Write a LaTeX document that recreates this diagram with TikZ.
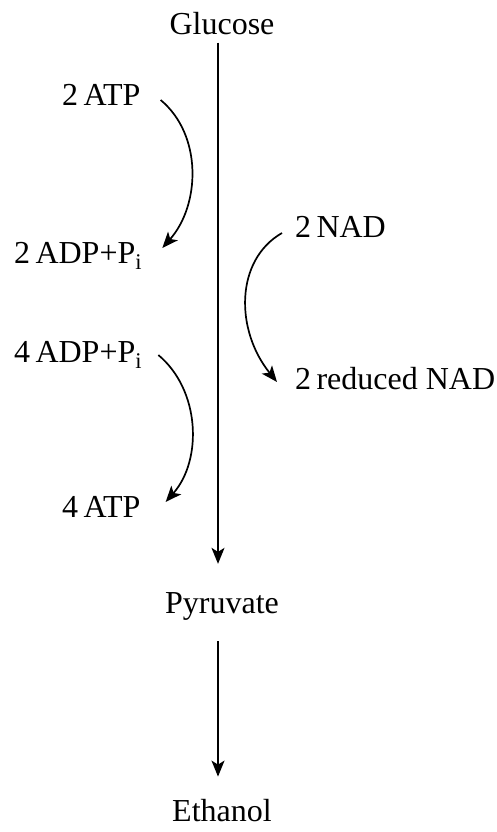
\documentclass[tikz,border=0pt]{standalone}
\usepackage{fontspec}
\setmainfont{Liberation Serif}
\usetikzlibrary{arrows.meta}
\begin{document}
\begin{tikzpicture}[x=1pt,y=-1pt,
  lbl/.style={inner sep=0pt,font=\fontsize{32}{38}\selectfont},
  flow/.style={line width=1.7pt,-{Stealth[length=16pt,width=13pt,inset=4pt]}},
  curvearrow/.style={line width=1.7pt,-{Stealth[length=16pt,width=13pt,inset=4pt]}}]
\useasboundingbox (0,0) rectangle (497,832);
\node[lbl,anchor=base] (glu) at (222,35) {Glucose};
\node[lbl,anchor=base west] (atp2) at (62,106) {2\,ATP};
\node[lbl,anchor=base west] (adp2) at (14,263) {2\,ADP+P\textsubscript{i}};
\node[lbl,anchor=base west] (nad2) at (295,237) {2\,NAD};
\node[lbl,anchor=base west] (adp4) at (14,362) {4\,ADP+P\textsubscript{i}};
\node[lbl,anchor=base west] (red) at (295,389) {2\,reduced NAD};
\node[lbl,anchor=base west] (atp4) at (62,517) {4\,ATP};
\node[lbl,anchor=base] (pyr) at (222,613) {Pyruvate};
\node[lbl,anchor=base] (eth) at (222,821) {Ethanol};
\draw[flow,shorten <=7pt,shorten >=28pt] ([xshift=-4pt]glu.south) -- ([xshift=-4pt]pyr.north);
\draw[flow,shorten <=21pt,shorten >=22pt] ([xshift=-4pt]pyr.south) -- ([xshift=-4pt]eth.north);
\draw[curvearrow] ([xshift=20pt,yshift=6pt]atp2.base east) .. controls +(42,35) and +(38,-43) .. ([xshift=20pt,yshift=15pt]adp2.base east);
\draw[curvearrow] ([xshift=-13pt,yshift=4pt]nad2.base west) .. controls +(-47,27) and +(-42,-52) .. ([xshift=-18pt,yshift=7pt]red.base west);
\draw[curvearrow] ([xshift=16pt,yshift=7pt]adp4.base east) .. controls +(42,35) and +(37,-42) .. ([xshift=25pt,yshift=15pt]atp4.base east);
\end{tikzpicture}
\end{document}
